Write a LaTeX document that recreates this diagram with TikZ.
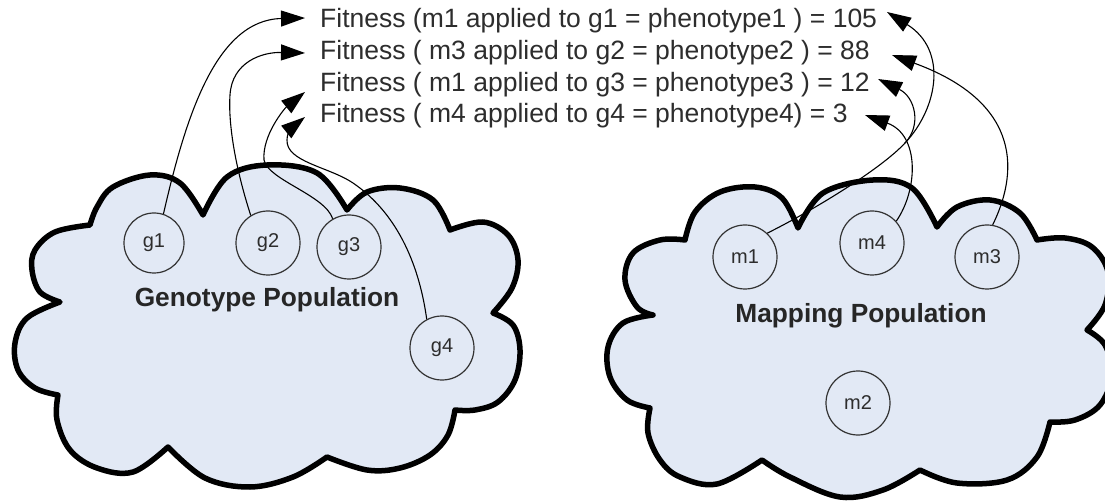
\documentclass[tikz,border=0pt]{standalone}
\usepackage{fontspec}
\setmainfont{Liberation Sans}
\usetikzlibrary{arrows.meta}
\definecolor{cloudfill}{RGB}{226,233,245}
\definecolor{inktext}{RGB}{45,45,45}
\begin{document}
\begin{tikzpicture}[x=1pt,y=-1pt,
  cloud/.style={draw=black, line width=5.5pt, fill=cloudfill, line join=round},
  member/.style={circle, draw=black!80, line width=1.2pt, minimum size=64pt,
    inner sep=0pt, text=inktext, font=\fontsize{20}{24}\selectfont},
  poplabel/.style={anchor=base, inner sep=0pt, text=black!85,
    font=\fontsize{26.3}{30}\selectfont\bfseries},
  fitline/.style={anchor=base west, inner sep=0pt, text=inktext,
    font=\fontsize{26.5}{30}\selectfont},
  link/.style={draw=black, line width=1.1pt,
    -{Triangle[length=24pt,width=16pt]}},
  bump/.style={smooth, tension=0.6}]
\useasboundingbox (0,0) rectangle (1105,502);
\clip (0,0) rectangle (1105,502);
\fill[white] (0,0) rectangle (1105,502);

% genotype cloud
\path[cloud]
  plot[bump] coordinates {(90,225) (97,207) (113,187) (150,175) (180,183) (203,215)}
  -- plot[bump] coordinates {(203,215) (227,177) (267,165) (317,173) (347,210)}
  -- plot[bump] coordinates {(347,210) (367,192) (400,188) (433,200) (450,230)}
  -- plot[bump] coordinates {(450,230) (483,222) (508,235) (518,260) (512,288) (493,313)}
  -- plot[bump] coordinates {(493,313) (513,325) (520,350) (515,380) (498,402) (475,410) (455,410)}
  -- plot[bump] coordinates {(455,410) (448,435) (430,455) (400,468) (367,470) (327,457)}
  -- plot[bump] coordinates {(327,457) (293,477) (250,487) (205,478) (168,447)}
  -- plot[bump] coordinates {(168,447) (133,472) (97,468) (70,450) (57,420) (58,395)}
  -- plot[bump] coordinates {(58,395) (35,388) (18,370) (15,343) (27,318) (60,302)}
  -- plot[bump] coordinates {(60,302) (40,292) (32,270) (35,250) (55,232) (90,225)}
  -- cycle;

% mapping cloud
\path[cloud]
  plot[bump] coordinates {(685,240) (695,212) (720,192) (755,187) (782,198) (798,228)}
  -- plot[bump] coordinates {(798,228) (823,193) (873,180) (912,188) (937,227)}
  -- plot[bump] coordinates {(937,227) (957,207) (990,200) (1020,213) (1037,240)}
  -- plot[bump] coordinates {(1037,240) (1065,238) (1092,247) (1108,272) (1105,305) (1087,330)}
  -- plot[bump] coordinates {(1087,330) (1105,345) (1112,375) (1100,405) (1075,420) (1050,422)}
  -- plot[bump] coordinates {(1050,422) (1037,457) (1007,480) (957,483) (920,470)}
  -- plot[bump] coordinates {(920,470) (883,490) (840,497) (790,477) (762,460)}
  -- plot[bump] coordinates {(762,460) (717,484) (680,477) (660,460) (648,433) (650,408)}
  -- plot[bump] coordinates {(650,408) (627,400) (610,377) (608,347) (623,323) (653,315)}
  -- plot[bump] coordinates {(653,315) (637,307) (625,280) (633,253) (660,240) (685,240)}
  -- cycle;

% population members
\node[member, minimum size=60pt] (g1) at (154,243) {g1};
\node[member] (g2) at (268,243) {g2};
\node[member] (g3) at (349,247) {g3};
\node[member] (g4) at (442,348) {g4};
\node[member] (m1) at (745,257) {m1};
\node[member] (m4) at (872,243) {m4};
\node[member] (m3) at (987,257) {m3};
\node[member] (m2) at (858,403) {m2};

\node[poplabel] (genpop) at (267,307) {Genotype Population};
\node[poplabel] (mappop) at (861,323) {Mapping Population};

% fitness results
\node[fitline] (f1) at (320,28) {Fitness (m1 applied to g1 = phenotype1 ) = 105};
\node[fitline] (f2) at (320,60) {Fitness ( m3 applied to g2 = phenotype2 ) = 88};
\node[fitline] (f3) at (320,92) {Fitness ( m1 applied to g3 = phenotype3 ) = 12};
\node[fitline] (f4) at (320,123) {Fitness ( m4 applied to g4 = phenotype4) = 3};

% arrow targets beside the results
\coordinate (t1) at (305,18);
\coordinate (t2) at (305,53);
\coordinate (t3) at (305,92);
\coordinate (t4) at (305,117);
\coordinate (u1) at (887,12);
\coordinate (u2) at (892,55);
\coordinate (u3) at (878,79);
\coordinate (u4) at (865,115);
\coordinate (split) at (905,143);

% genotypes to results
\draw[link] (g1.72) .. controls (185,120) and (215,20) .. (t1);
\draw[link] (g2.122) .. controls (236,170) and (228,125) .. (230,95)
  .. controls (232,62) and (262,52) .. (t2);
\draw[link] (g3.120) .. controls (325,195) and (268,180) .. (264,160)
  .. controls (262,135) and (285,108) .. (t3);
\draw[link] (g4.118) .. controls (420,270) and (400,215) .. (353,183)
  .. controls (329.5,167) and (286,162) .. (287,140)
  .. controls (287,130) and (295,125) .. (t4);

% mappings to results
\draw[line width=1.1pt] (m1.47) .. controls (810,212) and (880,170) .. (split);
\draw[link] (split) .. controls (938,108) and (948,50) .. (u1);
\draw[link] (split) .. controls (922,125) and (915,97) .. (u3);
\draw[link] (m3.80) .. controls (1022,165) and (1015,100) .. (u2);
\draw[link] (m4.42) .. controls (918,190) and (920,135) .. (u4);
\end{tikzpicture}
\end{document}
